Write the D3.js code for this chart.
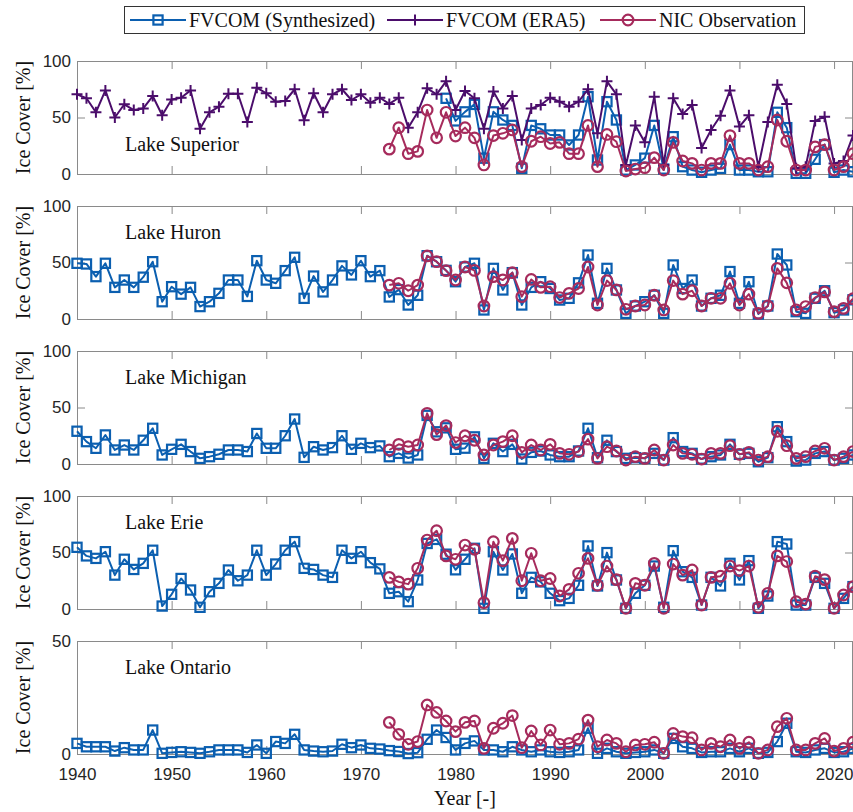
<!DOCTYPE html>
<html><head><meta charset="utf-8">
<script src="https://cdn.jsdelivr.net/npm/d3@7"></script>
<style>body{margin:0;background:#fff} svg{display:block}</style>
</head><body>
<svg id="chart" width="853" height="812"></svg>
<script>
// Annual maximum ice cover (%) of the five Great Lakes
const yearFirst = 1940, yearLast = 2022;
const xTickYears = [1940, 1950, 1960, 1970, 1980, 1990, 2000, 2010, 2020];
const lakeNames = ["Lake Superior", "Lake Huron", "Lake Michigan", "Lake Erie", "Lake Ontario"];
const lakeYMax = [100, 100, 100, 100, 50];
const lakeYTicks = [[0, 50, 100], [0, 50, 100], [0, 50, 100], [0, 50, 100], [0, 50]];
const seriesNames = ["FVCOM (Synthesized)", "FVCOM (ERA5)", "NIC Observation"];
const synthStart = [1979, 1940, 1940, 1940, 1940];
const eraStart = 1940;
const nicStart = 1973;

// Lake Superior
const superiorERA5 = [70.5, 67, 54.6, 74, 50, 61.7, 56.6, 58, 69, 52,
  66, 67.5, 74, 40, 54.6, 59.6, 71, 71, 46, 76.4,
  71.4, 64, 64.6, 75, 47.5, 71.4, 54.6, 70.5, 75, 65.5,
  70.5, 63, 67.5, 62, 67.5, 41, 54.6, 75.8, 70.5, 82,
  56.6, 73.5, 67, 40, 73, 58, 69, 30, 58, 61,
  67.5, 64, 59.6, 64, 75, 36, 82, 70.5, 8, 43,
  28, 68.4, 8, 67, 53, 61, 23, 39, 51.6, 74,
  42, 52, 6.5, 46, 79, 62, 5, 6.5, 47, 50.7,
  9.4, 11.5, 34];
const superiorSynth = [67, 47, 55, 61.6, 14, 55, 47.8, 43, 5, 43,
  40, 34.5, 34.5, 25.7, 34.5, 68.4, 12.4, 64, 47.8, 3.5,
  8, 14, 43, 4.4, 33, 6.5, 3.5, 1.5, 3.5, 5,
  26, 3.5, 3.5, 2, 2, 54.6, 41, 0.6, 0.6, 13,
  26, 1.5, 3.5, 2];
const superiorNIC = [22, 41, 18, 20, 56.6, 32, 54.6, 33.6, 41, 32,
  8, 34, 36, 39, 6.5, 29, 33, 27, 28, 18,
  18, 43, 6.5, 35, 28.6, 2.6, 4.4, 5.6, 14.5, 3.5,
  28, 11.5, 9.4, 3.5, 9.4, 9.4, 34, 9.4, 9.4, 3.5,
  6.5, 47.8, 29, 3.5, 3.5, 24, 26, 3.5, 6.5, 18];

// Lake Huron
const huronSynth = [49.3, 48.7, 37.5, 49.3, 28, 34.5, 28, 37, 50.7, 15.3,
  28.6, 22, 28, 11, 15.3, 22.7, 34.5, 34.5, 20, 51.6,
  34.5, 31.6, 42.8, 54.6, 18.3, 38, 24, 34.5, 47, 39,
  51.6, 37.5, 42.8, 19.5, 26, 12.4, 21, 56, 50.7, 43,
  33, 46, 49.3, 8, 44.8, 25.7, 41, 12.4, 28, 33,
  27, 16.8, 18.3, 32, 56.6, 13.9, 44.8, 25.7, 5, 11.5,
  15.3, 21, 5, 47.8, 27, 34.5, 11.5, 18.3, 21, 42,
  13.9, 33, 4.4, 11.5, 57.5, 47.8, 6.5, 5, 18.3, 25,
  5.6, 8, 17];
const huronNIC = [30, 31.6, 25, 30, 55.8, 50.7, 42.8, 34.5, 46, 43,
  11.5, 37.5, 34.5, 41, 19.8, 35, 28, 28.6, 19, 22.7,
  27, 46, 12.4, 34, 25.7, 8.6, 11.5, 12.4, 21, 8,
  34, 22, 25, 11.5, 18.3, 18.3, 31.6, 12.4, 22, 5,
  11.5, 44.8, 32, 8, 11, 19, 24, 6.5, 9.4, 18];

// Lake Michigan
const michiganSynth = [29, 19.8, 13.9, 25.7, 12.4, 16.8, 12.4, 21, 31.6, 8,
  13, 17.4, 11, 5, 6.5, 8.6, 12.4, 12.4, 11, 27,
  13.9, 13.9, 25, 39.8, 5.9, 15.3, 12.4, 14.5, 25, 13,
  18.3, 14.5, 16, 6.5, 9.4, 5.3, 8, 43, 28.5, 32,
  13, 14, 24, 5, 18.3, 11, 17.4, 4.4, 10.3, 11.5,
  8, 6.5, 6.5, 11.5, 31.6, 5.6, 21, 11, 5, 5.6,
  5, 9.4, 3.5, 23.3, 11, 9.4, 4.4, 6.5, 8, 17.4,
  8.6, 9.4, 2, 5.6, 33, 19.8, 2.6, 3.5, 9.4, 11,
  3.5, 5, 8];
const michiganNIC = [12.4, 17.4, 15.3, 16.8, 44.8, 26, 34, 19, 25, 21,
  8, 16.8, 19.8, 25, 10.3, 16.8, 12.4, 17.4, 9.4, 8.6,
  11, 22, 5, 15.3, 11.5, 3.5, 6.5, 5, 12.4, 3.5,
  16.8, 9.4, 8.6, 4.4, 9.4, 9.4, 16.2, 8.6, 10.3, 3.5,
  6.5, 29, 16.2, 5, 6.5, 11.5, 13.9, 3.5, 6.5, 11];

// Lake Erie
const erieSynth = [54.6, 47, 44.8, 50.7, 30, 44, 35, 40.4, 52, 2.6,
  13, 27, 16.8, 1.5, 15.3, 22.7, 34.5, 25, 30, 52,
  30, 39.8, 52, 59.6, 36, 35, 30, 28, 52, 44.8,
  50.7, 41, 35.5, 13.9, 15.3, 6.5, 25.7, 58, 61.6, 48.5,
  34.7, 44, 53.7, 0.6, 50.7, 34.5, 48.7, 13.9, 28, 24,
  13.9, 7.4, 9.4, 21, 55.8, 20.4, 49.9, 25.7, 0.6, 13.9,
  21, 38, 1.5, 51.6, 33, 28, 3.5, 28, 20.4, 40.4,
  25.7, 42.8, 0.6, 11.5, 59.6, 57.5, 3.5, 3.5, 28, 22.7,
  0.6, 9.4, 19.8];
const erieNIC = [28, 24, 22, 36, 61, 69.3, 47, 44, 56.6, 52.8,
  5.6, 59.6, 42.8, 62.5, 25, 49.3, 25, 27, 11.5, 17.4,
  31.6, 44.8, 21, 38, 26, 0.6, 22.7, 21, 40.4, 0.6,
  39.8, 30, 34.5, 3.5, 28, 29, 38, 34, 38, 1.5,
  13.9, 47, 42, 6.5, 4.4, 29, 26, 0.6, 12.4, 19.8];

// Lake Ontario
const ontarioSynth = [4.7, 3.2, 3.2, 3.2, 1.3, 2.8, 1.8, 1.8, 10.6, 0.3,
  0.7, 1, 0.7, 0.3, 1, 1.8, 1.8, 1.8, 0.7, 4,
  0.3, 5.5, 4.7, 8.7, 1.8, 1.3, 1, 1.3, 4.3, 2.8,
  4, 2.5, 2.2, 1.5, 1.1, 0.2, 0.6, 6.5, 10.6, 7.3,
  1.8, 4.7, 5.8, 1.8, 1.8, 1, 3.2, 1.8, 1, 1.8,
  1, 0.7, 1, 1.8, 11.4, 0.3, 2.5, 1, 0.3, 0.7,
  1, 1.8, 0.3, 6.9, 3.2, 2.5, 0.7, 1, 1, 2.5,
  1, 2.5, 0.3, 0.7, 5.5, 13.6, 1, 0.7, 1.8, 2.5,
  0.7, 1, 2.5];
const ontarioNIC = [14, 8.7, 4.3, 5.5, 21.7, 18.4, 14.6, 9.9, 14, 14.6,
  2.5, 11.4, 13.6, 17, 2.8, 10.2, 4, 10.6, 4.3, 4.7,
  6.6, 15, 3.2, 6.2, 4.7, 1, 4, 4.3, 5.2, 0.3,
  9.1, 7.7, 7.2, 1.8, 4.7, 3.2, 6.2, 2.5, 5.2, 0.3,
  1.8, 12.1, 15.8, 1.8, 1.8, 4.7, 6.9, 1.3, 2.5, 5.2];

const synthSeries = [superiorSynth, huronSynth, michiganSynth, erieSynth, ontarioSynth];
const nicSeries = [superiorNIC, huronNIC, michiganNIC, erieNIC, ontarioNIC];
const eraSeries = [superiorERA5, null, null, null, null];

// ---- styling and layout ----
const colSynth = "#0b5fb0", colERA = "#4b0d6b", colNIC = "#a62b5c";
const axisGrey = "#8a8a8a", tickText = "#262626";
const serif = "'Liberation Serif', 'Times New Roman', serif";
const sans = "'Liberation Sans', Arial, sans-serif";
const left = 77, right = 853;
const panelTops = [61, 206, 351, 496, 641];
const panelH = 113;

const svg = d3.select("#chart");
const x = d3.scaleLinear().domain([yearFirst, yearLast]).range([left, right]);

const toPoints = (vals, start) => vals.map((v, i) => ({year: start + i, v}));

function drawSquares(g, pts, y, color) {
  g.selectAll(null).data(pts).join("rect")
    .attr("x", d => x(d.year) - 4.6).attr("y", d => y(d.v) - 4.6)
    .attr("width", 9.2).attr("height", 9.2)
    .attr("fill", "none").attr("stroke", color).attr("stroke-width", 2.2);
}
function drawPlus(g, pts, y, color) {
  g.selectAll(null).data(pts).join("path")
    .attr("d", d => `M${x(d.year) - 5.5},${y(d.v)}h11M${x(d.year)},${y(d.v) - 5.5}v11`)
    .attr("stroke", color).attr("stroke-width", 2).attr("fill", "none");
}
function drawCircles(g, pts, y, color) {
  g.selectAll(null).data(pts).join("circle")
    .attr("cx", d => x(d.year)).attr("cy", d => y(d.v)).attr("r", 5.3)
    .attr("fill", "none").attr("stroke", color).attr("stroke-width", 2.2);
}
function drawLine(g, pts, y, color) {
  g.append("path").datum(pts)
    .attr("d", d3.line().x(d => x(d.year)).y(d => y(d.v)))
    .attr("fill", "none").attr("stroke", color).attr("stroke-width", 2)
    .attr("stroke-linejoin", "round");
}

lakeNames.forEach((name, k) => {
  const top = panelTops[k];
  const y = d3.scaleLinear().domain([0, lakeYMax[k]]).range([top + panelH, top]);
  const g = svg.append("g");

  // axes with inward ticks on all four sides
  const bottomAxis = d3.axisBottom(x).tickValues(xTickYears).tickSizeInner(-8).tickSizeOuter(0)
    .tickFormat(k === lakeNames.length - 1 ? d3.format("d") : () => "");
  const topAxis = d3.axisTop(x).tickValues(xTickYears).tickSizeInner(-8).tickSizeOuter(0).tickFormat(() => "");
  const leftAxis = d3.axisLeft(y).tickValues(lakeYTicks[k]).tickSizeInner(-8).tickSizeOuter(0).tickPadding(6);
  const rightAxis = d3.axisRight(y).tickValues(lakeYTicks[k]).tickSizeInner(-8).tickSizeOuter(0).tickFormat(() => "");

  const axes = [
    g.append("g").attr("transform", `translate(0,${top + panelH})`).call(bottomAxis),
    g.append("g").attr("transform", `translate(0,${top})`).call(topAxis),
    g.append("g").attr("transform", `translate(${left},0)`).call(leftAxis),
    g.append("g").attr("transform", `translate(${right},0)`).call(rightAxis)
  ];
  axes.forEach(a => {
    a.select(".domain").remove();
    a.selectAll(".tick line").attr("stroke", axisGrey);
    a.selectAll(".tick text").attr("fill", tickText).style("font-family", sans).style("font-size", "17px");
  });
  axes[0].selectAll(".tick text").attr("dy", "1.35em");

  g.append("rect").attr("x", left + 0.5).attr("y", top + 0.5)
    .attr("width", right - left - 1).attr("height", panelH)
    .attr("fill", "none").attr("stroke", axisGrey).attr("stroke-width", 1);

  // y-axis title
  g.append("text")
    .attr("transform", `translate(30,${top + panelH / 2}) rotate(-90)`)
    .attr("text-anchor", "middle").style("font-family", serif).style("font-size", "20px")
    .attr("fill", "#111").text("Ice Cover [%]");

  // lake name
  const nameY = k === 0 ? top + 90 : top + 33;
  g.append("text").attr("x", 125).attr("y", nameY)
    .style("font-family", serif).style("font-size", "20px").attr("fill", "#111").text(name);

  // series: synthesized, ERA5, NIC (drawn in that order)
  const syn = toPoints(synthSeries[k], synthStart[k]);
  drawLine(g, syn, y, colSynth);
  drawSquares(g, syn, y, colSynth);
  if (eraSeries[k]) {
    const era = toPoints(eraSeries[k], eraStart);
    drawLine(g, era, y, colERA);
    drawPlus(g, era, y, colERA);
  }
  const nic = toPoints(nicSeries[k], nicStart);
  drawLine(g, nic, y, colNIC);
  drawCircles(g, nic, y, colNIC);
});

// x-axis title
svg.append("text").attr("x", 465).attr("y", 805).attr("text-anchor", "middle")
  .style("font-family", serif).style("font-size", "20px").attr("fill", "#111").text("Year [-]");

// legend
const lg = svg.append("g");
lg.append("rect").attr("x", 124.5).attr("y", 6.5).attr("width", 680).attr("height", 27)
  .attr("fill", "#fff").attr("stroke", "#333").attr("stroke-width", 1);
const legendItems = [
  {label: seriesNames[0], color: colSynth, marker: "square", x0: 130},
  {label: seriesNames[1], color: colERA, marker: "plus", x0: 387},
  {label: seriesNames[2], color: colNIC, marker: "circle", x0: 600}
];
legendItems.forEach(it => {
  const cy = 20, cx = it.x0 + 28;
  lg.append("line").attr("x1", it.x0).attr("x2", it.x0 + 56).attr("y1", cy).attr("y2", cy)
    .attr("stroke", it.color).attr("stroke-width", 2);
  if (it.marker === "square") {
    lg.append("rect").attr("x", cx - 4.6).attr("y", cy - 4.6).attr("width", 9.2).attr("height", 9.2)
      .attr("fill", "none").attr("stroke", it.color).attr("stroke-width", 2.2);
  } else if (it.marker === "plus") {
    lg.append("path").attr("d", `M${cx - 5.5},${cy}h11M${cx},${cy - 5.5}v11`)
      .attr("stroke", it.color).attr("stroke-width", 2);
  } else {
    lg.append("circle").attr("cx", cx).attr("cy", cy).attr("r", 5.3)
      .attr("fill", "none").attr("stroke", it.color).attr("stroke-width", 2.2);
  }
  lg.append("text").attr("x", it.x0 + 59).attr("y", cy + 6.5)
    .style("font-family", serif).style("font-size", "20px").attr("fill", "#111").text(it.label);
});
</script>
</body></html>
